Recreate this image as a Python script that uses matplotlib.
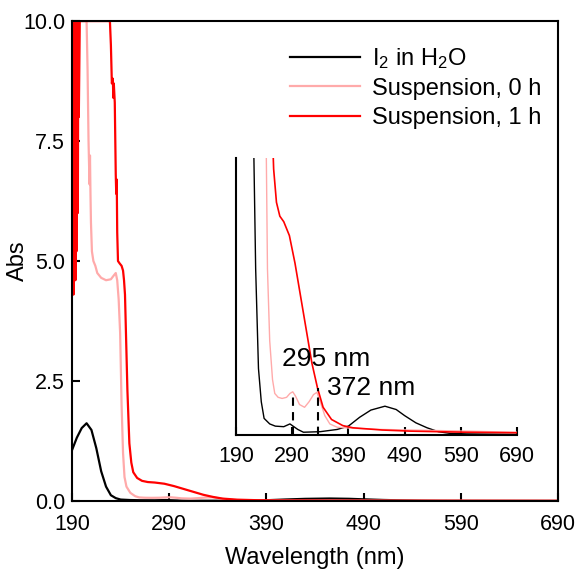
import matplotlib
matplotlib.use("Agg")
import matplotlib.pyplot as plt

plt.rcParams['font.family'] = ['Liberation Sans', 'DejaVu Sans']
plt.rcParams['mathtext.default'] = 'regular'

# I2 in H2O
wl_i2 = [190, 195, 200, 205, 210, 215, 220, 225, 230, 235, 240, 250, 260, 275,
         286, 300, 310, 340, 370, 390, 410, 430, 455, 475, 490, 510, 530, 550,
         570, 600, 690]
abs_i2 = [1.06, 1.32, 1.52, 1.62, 1.48, 1.1, 0.62, 0.3, 0.12, 0.06, 0.03, 0.02,
          0.016, 0.015, 0.02, 0.01, 0.005, 0.006, 0.01, 0.016, 0.032, 0.045,
          0.052, 0.046, 0.035, 0.022, 0.013, 0.006, 0.003, 0.002, 0.001]

# suspension, 0 h
wl_s0 = [190, 190.5, 191, 191.5, 192, 192.5, 193, 193.5, 194, 194.5, 195, 196,
         197, 198, 205, 206, 207, 208, 208.5, 209, 209.5, 210.5, 212, 214, 216,
         220, 225, 230, 233, 235, 236.5, 238, 239.5, 241, 242.5, 244, 246, 250,
         255, 259, 265, 272, 280, 286, 291, 296, 303, 312, 320, 328, 334, 340,
         348, 357, 370, 400, 450, 500, 600, 690]
abs_s0 = [5.0, 8.3, 4.8, 8.4, 6.2, 8.0, 5.5, 7.8, 10.0, 7.0, 10.0, 8.2, 10.0,
          10.0, 10.0, 9.0, 7.5, 6.6, 7.2, 6.4, 5.8, 5.2, 5.0, 4.9, 4.75, 4.65,
          4.6, 4.62, 4.7, 4.75, 4.6, 4.2, 3.5, 2.0, 1.0, 0.5, 0.3, 0.17, 0.1,
          0.075, 0.068, 0.066, 0.068, 0.075, 0.078, 0.07, 0.055, 0.05, 0.06,
          0.073, 0.077, 0.06, 0.035, 0.02, 0.014, 0.012, 0.01, 0.009, 0.007,
          0.005]

# suspension, 1 h
wl_s1 = [190, 190.3, 190.7, 191, 191.5, 192, 192.5, 193, 193.5, 194, 194.5, 195,
         195.5, 196, 196.5, 197, 198, 229, 230, 231, 232, 232.5, 233, 234, 235,
         235.5, 236, 236.5, 237.3, 239, 241, 242.5, 243.5, 244.5, 245.5, 247,
         249, 251, 253, 257, 262, 268, 275, 285, 295, 305, 315, 325, 335, 345,
         360, 380, 398, 450, 500, 600, 690]
abs_s1 = [4.5, 6.7, 4.4, 10.0, 4.3, 10.0, 5.0, 10.0, 4.6, 10.0, 5.2, 9.0, 10.0,
          6.0, 10.0, 8.0, 10.0, 10.0, 9.5, 8.7, 8.8, 8.4, 8.7, 8.3, 6.8, 6.4,
          6.7, 5.6, 5.0, 4.95, 4.9, 4.8, 4.6, 4.3, 3.5, 2.3, 1.2, 0.8, 0.6,
          0.48, 0.42, 0.395, 0.385, 0.36, 0.31, 0.25, 0.19, 0.13, 0.085, 0.05,
          0.028, 0.017, 0.013, 0.009, 0.007, 0.005, 0.004]

peak_pos = [291, 336]
peak_top = [0.075, 0.085]
peak_labels = ['295 nm', '372 nm']

x_ticks = [190, 290, 390, 490, 590, 690]
y_ticks = [0, 2.5, 5, 7.5, 10]

c_i2 = '#000000'
c_s0 = '#ffaaaa'
c_s1 = '#ff0000'

fig = plt.figure(figsize=(5.76, 5.69), dpi=100)
ax = fig.add_axes([0.125, 0.1195, 0.844, 0.8435])

ax.plot(wl_i2, abs_i2, color=c_i2, lw=1.6, label='I$_2$ in H$_2$O')
ax.plot(wl_s0, abs_s0, color=c_s0, lw=1.6, label='Suspension, 0 h')
ax.plot(wl_s1, abs_s1, color=c_s1, lw=1.6, label='Suspension, 1 h')

ax.set_xlim(190, 690)
ax.set_ylim(0, 10)
ax.set_xticks(x_ticks)
ax.set_yticks(y_ticks)
ax.set_yticklabels(['%.1f' % v for v in y_ticks])
ax.tick_params(direction='in', length=6, width=1.5, labelsize=15.5)
ax.tick_params(axis='x', pad=9)
ax.tick_params(axis='y', pad=5)
for s in ax.spines.values():
    s.set_linewidth(1.5)
ax.set_xlabel('Wavelength (nm)', fontsize=17, labelpad=9)
ax.set_ylabel('Abs', fontsize=17)
ax.yaxis.set_label_coords(-0.088, 0.5)

ax.legend(loc='upper right', bbox_to_anchor=(0.995, 0.978), frameon=False,
          fontsize=17, handlelength=3.0, handletextpad=0.5, labelspacing=0.3,
          borderaxespad=0.2)

# inset zoom on the low absorbance part
ins = fig.add_axes([0.4097, 0.2355, 0.4879, 0.4868])
ins.plot(wl_i2, abs_i2, color=c_i2, lw=1.0)
ins.plot(wl_s0, abs_s0, color=c_s0, lw=1.0)
ins.plot(wl_s1, abs_s1, color=c_s1, lw=1.2)
ins.set_xlim(190, 690)
ins.set_ylim(0, 0.5)
ins.set_xticks(x_ticks)
ins.set_yticks([])
ins.spines['top'].set_visible(False)
ins.spines['right'].set_visible(False)
for s in ['left', 'bottom']:
    ins.spines[s].set_linewidth(1.5)
ins.tick_params(axis='x', direction='in', length=6, width=1.5, labelsize=15.5, pad=8)

for xp, yt in zip(peak_pos, peak_top):
    ins.plot([xp, xp], [0, yt], color='black', lw=1.5, ls=(0, (4, 3)))
ins.text(272, 0.138, peak_labels[0], fontsize=19, va='center', ha='left')
ins.text(352, 0.085, peak_labels[1], fontsize=19, va='center', ha='left')

fig.savefig('out.png', dpi=100)
